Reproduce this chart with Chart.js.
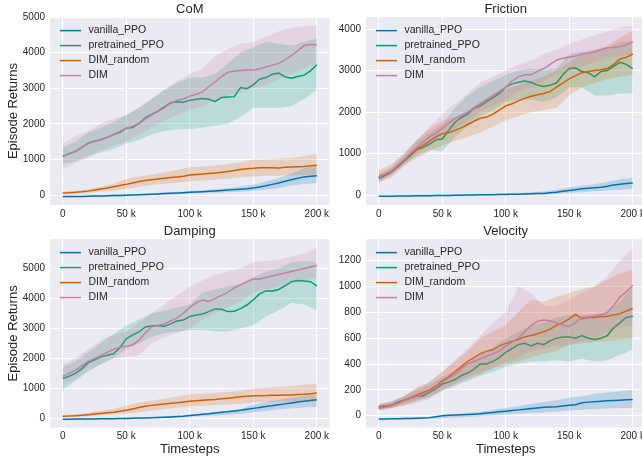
<!DOCTYPE html>
<html>
<head>
<meta charset="utf-8">
<script src="https://cdn.jsdelivr.net/npm/chart.js@4.4.1/dist/chart.umd.min.js"></script>
<style>
  html, body { margin: 0; padding: 0; background: #fff; }
  #wrap { position: relative; width: 642px; height: 460px; overflow: hidden; }
  .panel { position: absolute; }
</style>
</head>
<body>
<div id="wrap">
  <div class="panel" style="left:0;top:0;width:345px;height:225px"><canvas id="com"></canvas></div>
  <div class="panel" style="left:330px;top:0;width:331px;height:225px"><canvas id="friction"></canvas></div>
  <div class="panel" style="left:0;top:222px;width:345px;height:238px"><canvas id="damping"></canvas></div>
  <div class="panel" style="left:330px;top:222px;width:331px;height:238px"><canvas id="velocity"></canvas></div>
</div>
<script>
// ---- data (x in thousands of timesteps) ----
const steps5 = [0,5,10,15,20,25,30,35,40,45,50,55,60,65,70,75,80,85,90,95,100,105,110,115,120,125,130,135,140,145,150,155,160,165,170,175,180,185,190,195,200];
const steps10 = [0,10,20,30,40,50,60,70,80,90,100,110,120,130,140,150,160,170,180,190,200];
const xTicks = [0,50,100,150,200];
const xTickLabels = ['0','50 k','100 k','150 k','200 k'];
const seriesNames = ['vanilla_PPO','pretrained_PPO','DIM_random','DIM'];

// CoM
const com_vanilla_mean = [-40,-40,-40,-38,-35,-30,-25,-20,-15,-10,-5,0,5,12,20,30,40,48,55,65,75,85,95,105,115,128,140,152,165,180,200,225,260,300,340,385,430,470,510,530,540];
const com_vanilla_lo = [-60,-60,-55,-50,-40,-30,-20,-5,10,25,40,50,60,75,90,120,150,200,270,310,330];
const com_vanilla_hi = [-20,-20,-15,-5,5,20,30,45,70,90,110,130,160,190,240,290,380,480,600,750,820];
const com_pre_mean = [1085,1160,1225,1340,1460,1510,1555,1620,1700,1765,1880,1900,2010,2170,2265,2360,2480,2595,2620,2610,2660,2690,2715,2690,2630,2740,2755,2765,3020,2990,3095,3255,3300,3395,3425,3320,3280,3330,3370,3490,3660];
const com_pre_lo = [880,950,1100,1200,1300,1450,1550,1700,1800,1850,1850,1900,1950,2000,2200,2450,2450,2450,2500,2700,2950];
const com_pre_hi = [1350,1500,1750,1900,2050,2250,2450,2700,2950,3150,3300,3300,3400,3700,4000,4150,4300,4250,4200,4300,4400];
const com_rand_mean = [60,65,75,90,110,140,170,200,230,265,300,340,380,410,430,450,470,490,510,530,560,575,590,605,620,640,660,690,720,740,750,770,770,765,760,780,790,795,800,820,840];
const com_rand_lo = [30,40,60,90,120,180,230,280,320,350,380,410,440,460,490,520,540,540,550,560,560];
const com_rand_hi = [100,110,160,230,320,450,520,580,640,700,780,800,830,870,920,1000,1000,1020,1040,1100,1160];
const com_dim_mean = [1080,1150,1220,1330,1450,1500,1560,1620,1700,1790,1880,1930,2010,2130,2250,2350,2450,2580,2660,2700,2780,2830,2900,3050,3180,3330,3450,3480,3500,3510,3510,3550,3600,3650,3700,3800,3920,4050,4200,4230,4220];
const com_dim_lo = [730,900,1050,1250,1400,1500,1700,1900,2100,2250,2400,2500,2650,2800,2900,3000,3100,3250,3400,3550,3700];
const com_dim_hi = [1450,1650,1800,2000,2150,2250,2450,2700,2950,3200,3400,3550,3900,4100,4250,4300,4450,4600,4700,4750,4750];

// Friction
const fri_vanilla_mean = [-30,-30,-28,-26,-24,-22,-20,-18,-15,-12,-10,-8,-5,-2,0,3,5,8,10,13,15,18,20,25,30,35,40,55,70,90,110,130,150,165,175,190,210,240,260,280,290];
const fri_vanilla_lo = [-40,-38,-35,-32,-28,-25,-20,-15,-10,-5,0,5,10,20,30,50,70,90,110,130,150];
const fri_vanilla_hi = [-20,-18,-15,-10,-5,0,5,15,25,35,45,55,70,90,130,190,230,260,320,380,420];
const fri_pre_mean = [400,470,560,680,820,950,1100,1150,1230,1330,1350,1550,1750,1870,1950,2100,2150,2250,2350,2450,2600,2680,2720,2750,2720,2650,2620,2650,2700,2900,3050,3060,2980,2950,2850,2980,3000,3100,3200,3150,3050];
const fri_pre_lo = [330,500,750,950,1100,1050,1400,1650,1900,2050,2250,2300,2300,2250,2350,2600,2600,2400,2400,2450,2450];
const fri_pre_hi = [480,650,950,1300,1500,1700,2100,2400,2600,2750,2900,3000,3050,3000,3050,3400,3450,3500,3550,3700,3700];
const fri_rand_mean = [440,500,580,700,850,980,1100,1200,1300,1400,1480,1500,1560,1620,1700,1780,1850,1880,1950,2050,2150,2200,2270,2330,2380,2420,2450,2500,2600,2700,2800,2880,2950,2980,3000,3020,3050,3150,3280,3320,3400];
const fri_rand_lo = [300,420,700,900,1050,1200,1300,1400,1500,1650,1800,1900,2000,2050,2100,2400,2600,2700,2800,2850,2900];
const fri_rand_hi = [600,750,1000,1350,1600,1800,1850,2000,2250,2400,2550,2650,2750,2850,3000,3200,3400,3500,3600,3800,3950];
const fri_dim_mean = [420,500,580,720,850,1000,1150,1280,1400,1500,1600,1730,1850,1920,2000,2100,2200,2300,2400,2500,2600,2750,2850,2900,2900,2980,3050,3150,3250,3300,3330,3350,3400,3420,3450,3500,3550,3560,3580,3620,3700];
const fri_dim_lo = [320,480,700,1000,1200,1400,1600,1800,2000,2150,2300,2500,2600,2750,2900,3000,3100,3200,3300,3350,3400];
const fri_dim_hi = [520,700,1000,1300,1650,1950,2200,2450,2700,2850,3000,3150,3250,3400,3500,3650,3750,3850,3950,4050,4080];

// Damping
const dam_vanilla_mean = [-30,-30,-28,-26,-24,-22,-20,-17,-14,-10,-5,0,6,12,20,28,36,45,55,70,90,110,130,150,175,200,220,245,270,300,330,360,390,420,450,480,510,540,570,595,620];
const dam_vanilla_lo = [-45,-42,-40,-35,-30,-20,-10,5,20,35,50,70,90,120,150,200,240,290,330,360,380];
const dam_vanilla_hi = [-15,-12,-10,-5,0,15,30,45,65,90,120,160,200,250,300,450,550,620,680,750,800];
const dam_pre_mean = [1330,1400,1500,1650,1850,1950,2050,2100,2150,2350,2650,2780,2880,3050,3080,3100,3070,3150,3250,3280,3400,3450,3480,3560,3650,3640,3560,3570,3660,3780,3950,4150,4250,4250,4300,4420,4560,4600,4580,4560,4420];
const dam_pre_lo = [950,1250,1550,1800,2000,2300,2500,2700,2850,2900,2950,2950,2900,2900,3000,3100,3400,3600,3850,3800,3600];
const dam_pre_hi = [1700,1900,2200,2500,2800,3100,3300,3500,3600,3700,3800,4200,4300,4400,4500,4700,4900,5000,5200,5250,5200];
const dam_rand_mean = [70,75,85,100,120,140,160,180,200,235,270,310,360,400,430,455,480,500,520,545,570,585,600,615,630,650,670,690,720,735,750,755,760,770,770,775,780,790,800,820,840];
const dam_rand_lo = [30,45,70,100,130,150,200,250,300,350,400,420,440,460,480,530,550,560,560,560,560];
const dam_rand_hi = [110,130,180,250,320,420,520,590,650,720,800,820,850,880,920,1000,1020,1050,1080,1120,1150];
const dam_dim_mean = [1400,1500,1600,1750,1900,2000,2100,2200,2300,2370,2400,2450,2600,2850,3050,3100,3150,3250,3350,3500,3700,3850,3950,3900,4000,4100,4200,4350,4450,4550,4650,4650,4700,4750,4800,4850,4900,4950,5000,5050,5100];
const dam_dim_lo = [1100,1300,1600,1800,2000,2050,2100,2500,2700,2850,3000,3300,3500,3700,3900,4200,4300,4400,4500,4600,4700];
const dam_dim_hi = [1800,2000,2300,2600,2800,2900,3200,3500,3800,4100,4400,4600,4800,4900,5000,5200,5250,5300,5400,5500,5700];

// Velocity
const vel_vanilla_mean = [-25,-25,-24,-23,-22,-21,-20,-18,-15,-8,0,3,5,8,10,12,15,20,25,30,35,40,45,50,55,60,65,68,70,75,80,85,100,105,108,112,115,118,120,123,125];
const vel_vanilla_lo = [-30,-30,-28,-27,-25,-20,-15,-10,-5,0,10,15,20,25,30,40,45,50,55,60,60];
const vel_vanilla_hi = [-20,-18,-15,-12,-10,-5,10,20,30,45,60,75,90,105,120,140,150,170,180,190,200];
const vel_pre_mean = [60,70,80,105,120,135,150,155,180,210,245,260,280,310,330,360,400,400,420,450,490,520,550,560,540,560,550,580,600,610,610,600,620,600,590,600,620,680,720,760,770];
const vel_pre_lo = [40,60,90,120,140,190,230,270,310,340,380,400,420,420,430,420,440,420,430,470,510];
const vel_pre_hi = [80,110,150,200,240,300,350,420,470,530,600,650,700,720,760,780,780,790,800,880,1000];
const vel_rand_mean = [70,75,80,95,120,140,160,180,200,230,270,300,340,380,420,450,480,500,510,540,560,575,590,610,620,635,650,670,700,720,750,785,750,760,760,765,770,780,790,810,830];
const vel_rand_lo = [50,60,80,110,150,200,250,300,330,370,400,420,450,480,500,550,560,570,580,590,600];
const vel_rand_hi = [90,110,150,220,260,340,420,500,600,650,700,800,900,880,920,950,980,1000,1050,1100,1130];
const vel_dim_mean = [60,65,75,95,115,135,150,165,190,220,260,290,320,360,400,420,440,460,480,500,540,570,600,650,700,730,740,735,720,700,690,720,760,765,770,780,800,850,920,960,1010];
const vel_dim_lo = [40,55,75,100,130,200,240,280,320,370,420,450,500,520,540,550,580,600,650,680,700];
const vel_dim_hi = [90,110,150,210,260,340,430,520,620,720,800,1000,950,850,850,900,950,1000,1080,1200,1300];

const comTicks = [0,1000,2000,3000,4000,5000];
const friTicks = [0,1000,2000,3000,4000];
const damTicks = [0,1000,2000,3000,4000,5000];
const velTicks = [0,200,400,600,800,1000,1200];

// ---- style ----
const seriesColors = ['#0072B2','#009E73','#D55E00','#CC79A7'];
const bandColors = ['rgba(0,114,178,0.2)','rgba(0,158,115,0.2)','rgba(213,94,0,0.2)','rgba(204,121,167,0.2)'];
const textColor = '#262626';
Chart.defaults.font.family = '"Liberation Sans", Arial, sans-serif';
Chart.defaults.color = textColor;
Chart.defaults.animation = false;

function pts(xs, ys) {
    return xs.map((x, i) => ({ x: x, y: ys[i] }));
}

// grey plot background + legend inside the axes
const decor = {
    id: 'decor',
    beforeDraw(chart) {
        const { ctx, chartArea: a } = chart;
        ctx.save();
        ctx.fillStyle = '#EAEAF2';
        ctx.fillRect(a.left, a.top, a.width, a.height);
        ctx.restore();
    },
    afterDraw(chart) {
        const { ctx, chartArea: a } = chart;
        ctx.save();
        ctx.font = '10.5px "Liberation Sans", Arial, sans-serif';
        ctx.textBaseline = 'middle';
        seriesNames.forEach((name, i) => {
            const y = a.top + 13.5 + i * 15;
            ctx.strokeStyle = seriesColors[i];
            ctx.lineWidth = 1.5;
            ctx.beginPath();
            ctx.moveTo(a.left + 10, y);
            ctx.lineTo(a.left + 31, y);
            ctx.stroke();
            ctx.fillStyle = textColor;
            ctx.fillText(name, a.left + 38.5, y);
        });
        ctx.restore();
    }
};

function makePanel(id, p) {
    const datasets = [];
    p.series.forEach((s, i) => {
        datasets.push({ data: pts(steps10, s.lo), borderColor: 'rgba(0,0,0,0)', borderWidth: 0, pointRadius: 0, fill: false, order: 100 - 3 * i });
        datasets.push({ data: pts(steps10, s.hi), borderColor: 'rgba(0,0,0,0)', borderWidth: 0, pointRadius: 0, fill: '-1', backgroundColor: bandColors[i], order: 99 - 3 * i });
        datasets.push({ label: seriesNames[i], data: pts(steps5, s.mean), borderColor: seriesColors[i], borderWidth: 1.5, pointRadius: 0, fill: false, order: 98 - 3 * i });
    });

    new Chart(document.getElementById(id), {
        type: 'line',
        data: { datasets: datasets },
        options: {
            responsive: true,
            maintainAspectRatio: false,
            layout: { padding: { left: 0, right: p.padRight, top: 0, bottom: 0 } },
            plugins: {
                legend: { display: false },
                tooltip: { enabled: false },
                title: {
                    display: true, text: p.title, fullSize: false, color: textColor,
                    font: { size: 13, weight: 'normal' },
                    padding: { top: 1.5, bottom: 0 }
                }
            },
            scales: {
                x: {
                    type: 'linear', min: -10, max: 210,
                    afterBuildTicks: s => { s.ticks = xTicks.map(v => ({ value: v })); },
                    afterFit: s => { s.height = p.xHeight; },
                    ticks: {
                        callback: (v, i) => xTickLabels[i],
                        font: { size: 10 }, color: textColor, padding: 3,
                        maxRotation: 0, autoSkip: false
                    },
                    grid: { color: '#ffffff', lineWidth: 1, drawTicks: false },
                    border: { display: false },
                    title: {
                        display: p.xTitle, text: 'Timesteps', color: textColor,
                        font: { size: 13 }, padding: { top: 0, bottom: 3.2 }
                    }
                },
                y: {
                    min: p.yMin, max: p.yMax,
                    afterBuildTicks: s => { s.ticks = p.yTicks.map(v => ({ value: v })); },
                    afterFit: s => { s.width = p.yWidth; },
                    ticks: {
                        callback: v => String(v),
                        font: { size: 10 }, color: textColor, padding: 5
                    },
                    grid: { color: '#ffffff', lineWidth: 1, drawTicks: false },
                    border: { display: false },
                    title: {
                        display: p.yTitle, text: 'Episode Returns', color: textColor,
                        font: { size: 13 }, padding: { top: 5.5, bottom: 0 }
                    }
                }
            }
        },
        plugins: [decor]
    });
}

makePanel('com', {
    title: 'CoM', yMin: -280, yMax: 5000, yTicks: comTicks,
    yWidth: 50, xHeight: 20, padRight: 15.5, xTitle: false, yTitle: true,
    series: [
        { mean: com_vanilla_mean, lo: com_vanilla_lo, hi: com_vanilla_hi },
        { mean: com_pre_mean, lo: com_pre_lo, hi: com_pre_hi },
        { mean: com_rand_mean, lo: com_rand_lo, hi: com_rand_hi },
        { mean: com_dim_mean, lo: com_dim_lo, hi: com_dim_hi }
    ]
});

makePanel('friction', {
    title: 'Friction', yMin: -240, yMax: 4290, yTicks: friTicks,
    yWidth: 36, xHeight: 20, padRight: 15.6, xTitle: false, yTitle: false,
    series: [
        { mean: fri_vanilla_mean, lo: fri_vanilla_lo, hi: fri_vanilla_hi },
        { mean: fri_pre_mean, lo: fri_pre_lo, hi: fri_pre_hi },
        { mean: fri_rand_mean, lo: fri_rand_lo, hi: fri_rand_hi },
        { mean: fri_dim_mean, lo: fri_dim_lo, hi: fri_dim_hi }
    ]
});

makePanel('damping', {
    title: 'Damping', yMin: -315, yMax: 5980, yTicks: damTicks,
    yWidth: 50, xHeight: 32.3, padRight: 15.5, xTitle: true, yTitle: true,
    series: [
        { mean: dam_vanilla_mean, lo: dam_vanilla_lo, hi: dam_vanilla_hi },
        { mean: dam_pre_mean, lo: dam_pre_lo, hi: dam_pre_hi },
        { mean: dam_rand_mean, lo: dam_rand_lo, hi: dam_rand_hi },
        { mean: dam_dim_mean, lo: dam_dim_lo, hi: dam_dim_hi }
    ]
});

makePanel('velocity', {
    title: 'Velocity', yMin: -93, yMax: 1367, yTicks: velTicks,
    yWidth: 36, xHeight: 32.3, padRight: 15.6, xTitle: true, yTitle: false,
    series: [
        { mean: vel_vanilla_mean, lo: vel_vanilla_lo, hi: vel_vanilla_hi },
        { mean: vel_pre_mean, lo: vel_pre_lo, hi: vel_pre_hi },
        { mean: vel_rand_mean, lo: vel_rand_lo, hi: vel_rand_hi },
        { mean: vel_dim_mean, lo: vel_dim_lo, hi: vel_dim_hi }
    ]
});
</script>
</body>
</html>
